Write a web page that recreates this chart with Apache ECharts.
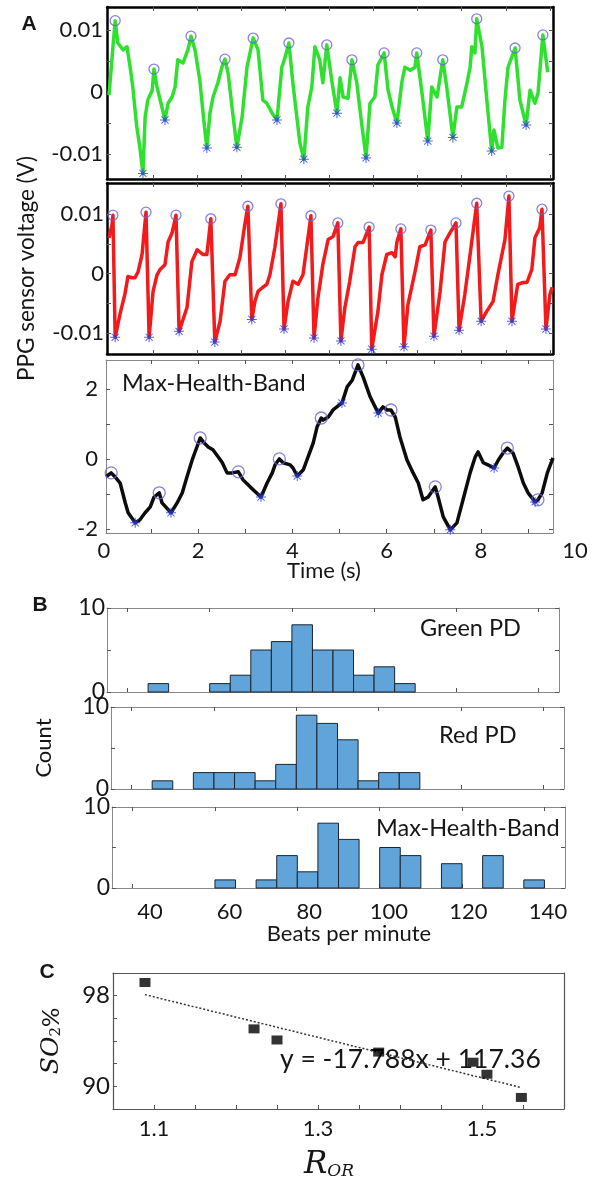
<!DOCTYPE html>
<html>
<head>
<meta charset="utf-8">
<title>PPG heart rate and SpO2</title>
<script src="https://cdn.jsdelivr.net/npm/echarts@6/dist/echarts.min.js"></script>
<style>
html, body { margin: 0; padding: 0; background: #fff; }
#main { width: 597px; height: 1182px; }
</style>
</head>
<body>
<div id="main"></div>
<script>
// ---- panel A : time (s) vs sensor voltage (V) ----
var greenTrace = [[0,-0.0005],[0.14,0.0115],[0.20,0.0079],[0.32,0.0068],[0.41,0.0073],[0.43,0.0063],[0.48,0.0040],[0.54,0.0008],[0.63,-0.0056],[0.70,-0.0089],[0.77,-0.0131],[0.82,-0.0040],[0.88,-0.0013],[0.98,0.0003],[1.02,0.0037],[1.09,0.0008],[1.20,-0.0024],[1.27,-0.0045],[1.34,-0.0018],[1.43,-0.0008],[1.50,0.0008],[1.56,0.0052],[1.68,0.0047],[1.79,0.0068],[1.86,0.0090],[1.95,0.0068],[2.06,0.0019],[2.15,-0.0045],[2.22,-0.0090],[2.29,-0.0034],[2.36,-0.0008],[2.47,0.0015],[2.56,0.0040],[2.63,0.0053],[2.70,0.0031],[2.79,-0.0024],[2.90,-0.0089],[3.02,-0.0040],[3.13,0.0040],[3.27,0.0087],[3.38,0.0068],[3.49,-0.0013],[3.58,-0.0018],[3.70,-0.0034],[3.81,-0.0045],[3.92,0.0040],[3.99,0.0055],[4.08,0.0079],[4.17,0.0015],[4.26,-0.0040],[4.33,-0.0082],[4.42,-0.0108],[4.51,-0.0024],[4.60,0.0008],[4.67,0.0073],[4.78,0.0052],[4.85,0.0015],[4.94,0.0076],[5.06,0.0015],[5.17,-0.0034],[5.24,0.0023],[5.31,-0.0008],[5.42,-0.0010],[5.51,0.0052],[5.62,0.0015],[5.74,-0.0056],[5.83,-0.0106],[5.92,-0.0018],[6.03,-0.0008],[6.10,0.0044],[6.24,0.0063],[6.33,0.0003],[6.42,-0.0024],[6.53,-0.0050],[6.64,0.0015],[6.71,0.0040],[6.83,0.0035],[6.94,0.0040],[6.98,0.0063],[7.10,-0.0002],[7.23,-0.0079],[7.32,0.0008],[7.44,-0.0008],[7.57,0.0052],[7.66,0.0008],[7.80,-0.0073],[7.89,-0.0024],[8.00,-0.0024],[8.12,0.0015],[8.19,0.0040],[8.23,0.0073],[8.30,0.0063],[8.34,0.0118],[8.46,0.0073],[8.57,-0.0013],[8.68,-0.0095],[8.73,-0.0061],[8.82,-0.0090],[8.91,-0.0089],[8.98,-0.0013],[9.05,0.0040],[9.21,0.0071],[9.32,-0.0013],[9.46,-0.0053],[9.55,0.0003],[9.66,-0.0018],[9.73,-0.0002],[9.84,0.0092],[9.95,0.0032]];
var greenPeaks = [[0.14,0.0115],[1.02,0.0037],[1.86,0.0090],[2.63,0.0053],[3.27,0.0087],[4.08,0.0079],[4.94,0.0076],[5.51,0.0052],[6.24,0.0063],[6.98,0.0063],[7.57,0.0052],[8.34,0.0118],[9.21,0.0071],[9.84,0.0092]];
var greenValleys = [[0.77,-0.0131],[1.27,-0.0045],[2.22,-0.0090],[2.90,-0.0089],[3.81,-0.0045],[4.42,-0.0108],[5.17,-0.0034],[5.83,-0.0106],[6.53,-0.0050],[7.23,-0.0079],[7.80,-0.0073],[8.68,-0.0095],[9.46,-0.0053]];

var redTrace = [[0,0.0060],[0.07,0.0082],[0.09,0.0098],[0.14,-0.0107],[0.25,-0.0068],[0.36,-0.0035],[0.43,-0.0005],[0.52,-0.0007],[0.59,-0.0007],[0.66,0.0003],[0.75,0.0032],[0.84,0.0103],[0.91,-0.0107],[1.00,-0.0030],[1.09,-0.0002],[1.16,0.0007],[1.27,0.0015],[1.34,0.0053],[1.43,0.0068],[1.52,0.0098],[1.59,-0.0097],[1.77,-0.0057],[1.88,0.0020],[2.00,0.0040],[2.13,0.0032],[2.22,0.0032],[2.31,0.0092],[2.40,-0.0115],[2.52,-0.0080],[2.63,-0.0013],[2.74,-0.0002],[2.86,-0.0002],[2.97,0.0027],[3.08,0.0082],[3.15,0.0113],[3.24,-0.0077],[3.31,-0.0047],[3.38,-0.0030],[3.49,-0.0023],[3.58,-0.0018],[3.65,-0.0002],[3.76,0.0043],[3.90,0.0117],[3.97,-0.0093],[4.06,-0.0047],[4.17,-0.0013],[4.29,-0.0018],[4.40,-0.0002],[4.58,0.0097],[4.65,-0.0108],[4.74,-0.0040],[4.85,0.0015],[4.97,0.0057],[5.08,0.0062],[5.19,0.0085],[5.26,-0.0113],[5.35,-0.0057],[5.46,-0.0013],[5.58,0.0045],[5.65,0.0052],[5.76,0.0052],[5.90,0.0078],[5.96,-0.0127],[6.10,-0.0063],[6.19,-0.0002],[6.30,0.0032],[6.42,0.0035],[6.49,0.0028],[6.53,0.0053],[6.62,0.0075],[6.69,-0.0123],[6.78,-0.0052],[6.94,0.0003],[7.05,0.0045],[7.17,0.0048],[7.30,0.0073],[7.37,-0.0105],[7.51,-0.0030],[7.62,0.0053],[7.73,0.0068],[7.87,0.0085],[7.94,-0.0095],[8.07,-0.0035],[8.19,0.0032],[8.34,0.0118],[8.44,-0.0080],[8.57,-0.0063],[8.71,-0.0047],[8.82,-0.0002],[8.98,0.0057],[9.07,0.0130],[9.14,-0.0080],[9.27,-0.0018],[9.39,-0.0015],[9.48,-0.0015],[9.59,0.0007],[9.66,0.0060],[9.77,0.0077],[9.82,0.0108],[9.91,-0.0093],[10.0,-0.0035],[10.05,-0.0023]];
var redPeaks = [[0.09,0.0098],[0.84,0.0103],[1.52,0.0098],[2.31,0.0092],[3.15,0.0113],[3.90,0.0117],[4.58,0.0097],[5.19,0.0085],[5.90,0.0078],[6.62,0.0075],[7.30,0.0073],[7.87,0.0085],[8.34,0.0118],[9.07,0.0130],[9.82,0.0108]];
var redValleys = [[0.14,-0.0107],[0.91,-0.0107],[1.59,-0.0097],[2.40,-0.0115],[3.24,-0.0077],[3.97,-0.0093],[4.65,-0.0108],[5.26,-0.0113],[5.96,-0.0127],[6.69,-0.0123],[7.37,-0.0105],[7.94,-0.0095],[8.44,-0.0080],[9.14,-0.0080],[9.91,-0.0093]];

var bandTrace = [[0.04,-0.51],[0.15,-0.40],[0.23,-0.51],[0.34,-0.69],[0.45,-1.26],[0.51,-1.54],[0.66,-1.83],[0.76,-1.74],[0.87,-1.54],[0.98,-1.37],[1.06,-1.09],[1.17,-0.97],[1.23,-1.26],[1.42,-1.54],[1.55,-1.26],[1.66,-0.97],[1.76,-0.51],[1.87,-0.03],[1.97,0.34],[2.04,0.60],[2.12,0.46],[2.21,0.34],[2.31,0.26],[2.42,0.06],[2.51,-0.11],[2.61,-0.40],[2.72,-0.40],[2.85,-0.37],[2.95,-0.60],[3.10,-0.80],[3.21,-0.94],[3.33,-1.09],[3.46,-0.69],[3.57,-0.40],[3.63,-0.17],[3.72,0.00],[3.80,-0.11],[3.95,-0.17],[4.01,-0.26],[4.10,-0.49],[4.23,-0.31],[4.33,0.06],[4.44,0.46],[4.52,0.91],[4.61,1.17],[4.65,1.11],[4.76,1.20],[4.86,1.40],[5.05,1.60],[5.16,2.06],[5.27,2.26],[5.39,2.69],[5.50,2.34],[5.65,1.77],[5.82,1.31],[5.92,1.49],[6.01,1.40],[6.09,1.40],[6.18,1.20],[6.28,0.63],[6.43,-0.03],[6.56,-0.40],[6.67,-0.69],[6.77,-1.17],[6.88,-1.09],[7.03,-0.80],[7.09,-1.09],[7.20,-1.66],[7.35,-2.03],[7.49,-1.83],[7.62,-1.17],[7.77,-0.40],[7.88,0.06],[7.94,0.20],[8.05,-0.11],[8.15,-0.17],[8.28,-0.26],[8.37,-0.03],[8.47,0.17],[8.56,0.31],[8.68,0.17],[8.79,-0.23],[8.90,-0.69],[9.00,-0.97],[9.15,-1.23],[9.21,-1.17],[9.30,-0.97],[9.41,-0.40],[9.53,0.03]];
var bandPeaks = [[0.15,-0.40],[1.17,-0.97],[2.04,0.60],[2.85,-0.37],[3.72,0.00],[4.61,1.17],[5.39,2.69],[6.09,1.40],[7.03,-0.80],[8.56,0.31],[9.21,-1.17]];
var bandValleys = [[0.66,-1.83],[1.42,-1.54],[3.33,-1.09],[4.10,-0.49],[5.05,1.60],[5.82,1.31],[7.35,-2.03],[8.28,-0.26],[9.15,-1.23]];

var timeTicks = [1, 2, 3, 4, 5, 6, 7, 8, 9, 10];
var timeLabels = [0, 2, 4, 6, 8, 10];
var voltTicks = [-0.01, -0.005, 0, 0.005, 0.01];
var voltLabels = [-0.01, 0, 0.01];
var bandTicks = [-2, -1, 0, 1, 2];
var bandLabels = [-2, 0, 2];

// ---- panel B : heart-rate histograms (bin left edge in bpm, count) ----
var binWidth = 5;
var greenBins = [45, 60, 65, 70, 75, 80, 85, 90, 95, 100, 105];
var greenCounts = [1, 1, 2, 5, 6, 8, 5, 5, 2, 3, 1];
var redBins = [45, 55, 60, 65, 70, 75, 80, 85, 90, 95, 100, 105];
var redCounts = [1, 2, 2, 2, 1, 3, 9, 8, 6, 1, 2, 2];
var bandBins = [60, 70, 75, 80, 85, 90, 100, 105, 115, 125, 135];
var bandCounts = [1, 1, 4, 2, 8, 6, 5, 4, 3, 4, 1];
var bpmTicks = [40, 60, 80, 100, 120, 140];
var countTicks = [0, 5, 10];
var countLabels = [0, 10];

// ---- panel C : SO2 vs R_OR ----
var rOR = [1.089, 1.222, 1.250, 1.374, 1.489, 1.506, 1.548];
var so2 = [99.16, 95.07, 94.09, 93.02, 92.13, 91.07, 89.02];
var fitX = [1.089, 1.547];
var fitY = [98.09, 89.91];
var rTicks = [1.1, 1.15, 1.2, 1.25, 1.3, 1.35, 1.4, 1.45, 1.5, 1.55];
var rLabels = [1.1, 1.3, 1.5];
var so2Ticks = [90, 92, 94, 96, 98];
var so2Labels = [90, 98];

var FONT = 'Lato';
var TXT = '#161616';
var starPath = 'path://M9 0L11 0L11 20L9 20Z M0 9L20 9L20 11L0 11Z M2.2 3.6L3.6 2.2L17.8 16.4L16.4 17.8Z M16.4 2.2L17.8 3.6L3.6 17.8L2.2 16.4Z';

var grids = [], xAxes = [], yAxes = [];

function axis(gi, pos, range, ticks, labels, lc, lw, margin, fs) {
	return {
		type: 'value', gridIndex: gi, position: pos,
		min: range[0], max: range[1],
		splitLine: { show: false },
		axisLine: { show: true, onZero: false, lineStyle: { color: lc, width: lw } },
		axisTick: { show: !!ticks, inside: true, length: 4, customValues: ticks || [], lineStyle: { color: '#555', width: 1 } },
		axisLabel: { show: !!labels, customValues: labels || [], margin: margin || 6, fontSize: fs || 22, color: TXT, fontFamily: FONT }
	};
}

// adds a boxed cartesian: bottom/top x axes, left/right y axes
function box(g, xr, yr, xt, yt, yl, lc, lw, ym, yfs, sideTicks) {
	var gi = grids.length;
	grids.push(g);
	xAxes.push(axis(gi, 'bottom', xr, xt, null, lc, lw));
	xAxes.push(axis(gi, 'top', xr, sideTicks ? xt : null, null, lc, lw));
	yAxes.push(axis(gi, 'left', yr, yt, yl, lc, lw, ym, yfs));
	yAxes.push(axis(gi, 'right', yr, sideTicks ? yt : null, null, lc, lw));
	return xAxes.length - 2;
}

// label-only axis in its own grid
function labelGrid(g, xr, labels, margin) {
	var gi = grids.length;
	grids.push(g);
	xAxes.push({
		type: 'value', gridIndex: gi, min: xr[0], max: xr[1],
		splitLine: { show: false }, axisLine: { show: false }, axisTick: { show: false },
		axisLabel: { customValues: labels, margin: margin, fontSize: 22, color: TXT, fontFamily: FONT }
	});
	yAxes.push({ type: 'value', gridIndex: gi, show: false });
	return xAxes.length - 1;
}

var gA1 = box({ left: 107, top: 7, width: 446, height: 172 }, [-0.045, 10.07], [-0.014, 0.0137], timeTicks, voltTicks, voltLabels, '#000', 2.5, 4, 22, true);
var gA2 = box({ left: 107, top: 183, width: 446, height: 171 }, [-0.045, 10.07], [-0.0135, 0.0152], timeTicks, voltTicks, voltLabels, '#000', 2.5, 3, 22, true);
var gA3 = box({ left: 106, top: 360, width: 447, height: 173 }, [0.04, 9.53], [-2.12, 2.83], timeTicks, bandTicks, bandLabels, '#888', 1, 8, 22, true);
var lA = labelGrid({ left: 104, top: 360, width: 471, height: 173 }, [0, 10], timeLabels, 7);
var gB1 = box({ left: 107, top: 608, width: 452, height: 84 }, [35, 145], [0, 10], bpmTicks, countTicks, countLabels, '#888', 1, 2, 23, true);
var gB2 = box({ left: 111, top: 707, width: 453, height: 82 }, [35, 145], [0, 10], bpmTicks, countTicks, countLabels, '#888', 1, 2, 23, true);
var gB3 = box({ left: 112, top: 807, width: 453, height: 81 }, [35, 145], [0, 10], bpmTicks, countTicks, countLabels, '#888', 1, 2, 23, true);
var lB = labelGrid({ left: 150, top: 807, width: 398, height: 81 }, [40, 140], bpmTicks, 13);
var gC = box({ left: 113, top: 973, width: 451, height: 136 }, [1.05, 1.6], [88, 100], rTicks, so2Ticks, so2Labels, '#555', 1.2, 3, 24, false);

// axis names and C x labels
yAxes[gA2 + 0].name = 'PPG sensor voltage (V)';
yAxes[gA2 + 0].nameLocation = 'middle';
yAxes[gA2 + 0].nameGap = 69;
yAxes[gA2 + 0].nameTextStyle = { fontSize: 22.5, fontFamily: FONT, color: TXT };
yAxes[gB2 + 0].name = 'Count';
yAxes[gB2 + 0].nameLocation = 'middle';
yAxes[gB2 + 0].nameGap = 56;
yAxes[gB2 + 0].nameTextStyle = { fontSize: 22, fontFamily: FONT, color: TXT };
yAxes[gC + 0].name = '{a|SO}{b|2}{c|%}';
yAxes[gC + 0].nameLocation = 'middle';
yAxes[gC + 0].nameGap = 49;
yAxes[gC + 0].nameTextStyle = {
	color: TXT,
	rich: {
		a: { fontSize: 25, fontStyle: 'italic', fontFamily: 'DejaVu Serif', color: TXT },
		b: { fontSize: 15, fontFamily: 'DejaVu Serif', color: TXT, padding: [11, 0, 0, 0] },
		c: { fontSize: 24, fontFamily: FONT, color: TXT }
	}
};
xAxes[gC].axisLabel = { show: true, customValues: rLabels, margin: 9, fontSize: 22, color: TXT, fontFamily: FONT };

function traceSeries(ax, data, color) {
	return { type: 'line', xAxisIndex: ax, yAxisIndex: ax, data: data, showSymbol: false, smooth: false,
		lineStyle: { color: color, width: 3.5, join: 'round' }, z: 2 };
}
function peakSeries(ax, data, size) {
	return { type: 'scatter', xAxisIndex: ax, yAxisIndex: ax, data: data, symbol: 'circle', symbolSize: size,
		itemStyle: { color: 'rgba(0,0,0,0)', borderColor: '#6a62d8', borderWidth: 1.3 }, z: 3 };
}
function valleySeries(ax, data) {
	return { type: 'scatter', xAxisIndex: ax, yAxisIndex: ax, data: data, symbol: starPath, symbolSize: 10,
		itemStyle: { color: '#2a3ce0' }, z: 4 };
}
function histSeries(ax, bins, counts) {
	var data = [];
	for (var i = 0; i < bins.length; i++) {
		data.push([bins[i], bins[i] + binWidth, counts[i]]);
	}
	return {
		type: 'custom', xAxisIndex: ax, yAxisIndex: ax, data: data,
		encode: { x: [0, 1], y: 2 },
		renderItem: function(params, api) {
			var p0 = api.coord([api.value(0), api.value(2)]);
			var p1 = api.coord([api.value(1), 0]);
			return {
				type: 'rect',
				shape: { x: p0[0], y: p0[1], width: p1[0] - p0[0], height: p1[1] - p0[1] },
				style: { fill: '#60a4d9', stroke: '#1c2530', lineWidth: 1 }
			};
		}
	};
}

var scatterC = [];
for (var i = 0; i < rOR.length; i++) scatterC.push([rOR[i], so2[i]]);
var fitLine = [[fitX[0], fitY[0]], [fitX[1], fitY[1]]];

var series = [
	traceSeries(gA1, greenTrace, '#2fe02f'), peakSeries(gA1, greenPeaks, 10), valleySeries(gA1, greenValleys),
	traceSeries(gA2, redTrace, '#f21a1a'), peakSeries(gA2, redPeaks, 10), valleySeries(gA2, redValleys),
	traceSeries(gA3, bandTrace, '#0c0c0c'), peakSeries(gA3, bandPeaks, 12), valleySeries(gA3, bandValleys),
	histSeries(gB1, greenBins, greenCounts),
	histSeries(gB2, redBins, redCounts),
	histSeries(gB3, bandBins, bandCounts),
	{ type: 'line', xAxisIndex: gC, yAxisIndex: gC, data: fitLine, showSymbol: false,
		lineStyle: { color: '#333', width: 1.5, type: [2, 2] } },
	{ type: 'scatter', xAxisIndex: gC, yAxisIndex: gC, data: scatterC, symbol: 'rect', symbolSize: [11, 9],
		itemStyle: { color: '#000' }, z: 5 }
];

function txt(x, y, s, size, opts) {
	var st = { text: s, x: x, y: y, fontSize: size, fontFamily: FONT, fill: TXT, align: 'left', verticalAlign: 'middle' };
	for (var k in opts) st[k] = opts[k];
	return { type: 'text', z: 1, style: st };
}

var graphics = [
	txt(29, 24, 'A', 21, { fontWeight: 'bold', align: 'center', fontFamily: 'Liberation Sans' }),
	txt(40, 605, 'B', 21, { fontWeight: 'bold', align: 'center', fontFamily: 'Liberation Sans' }),
	txt(47, 972, 'C', 21, { fontWeight: 'bold', align: 'center', fontFamily: 'Liberation Sans' }),
	txt(122, 383, 'Max-Health-Band', 23.5),
	txt(324, 571, 'Time (s)', 22, { align: 'center' }),
	txt(420, 628, 'Green PD', 23.5),
	txt(439, 735, 'Red PD', 23.5),
	txt(376, 828, 'Max-Health-Band', 23.5),
	txt(349, 934, 'Beats per minute', 22, { align: 'center' }),
	txt(280, 1059, 'y = -17.788x + 117.36', 26.5),
	{ type: 'text', z: 1, style: {
		text: '{r|R}{s|OR}', x: 329, y: 1165, align: 'center', verticalAlign: 'middle',
		rich: {
			r: { fontSize: 31, fontStyle: 'italic', fontFamily: 'DejaVu Serif', fill: TXT },
			s: { fontSize: 17, fontStyle: 'italic', fontFamily: 'DejaVu Serif', fill: TXT, padding: [14, 0, 0, 0] }
		}
	} }
];

var myChart = echarts.init(document.getElementById('main'));
var option = {
	animation: false,
	backgroundColor: '#fff',
	grid: grids,
	xAxis: xAxes,
	yAxis: yAxes,
	series: series,
	graphic: graphics
};
myChart.setOption(option);
</script>
</body>
</html>
